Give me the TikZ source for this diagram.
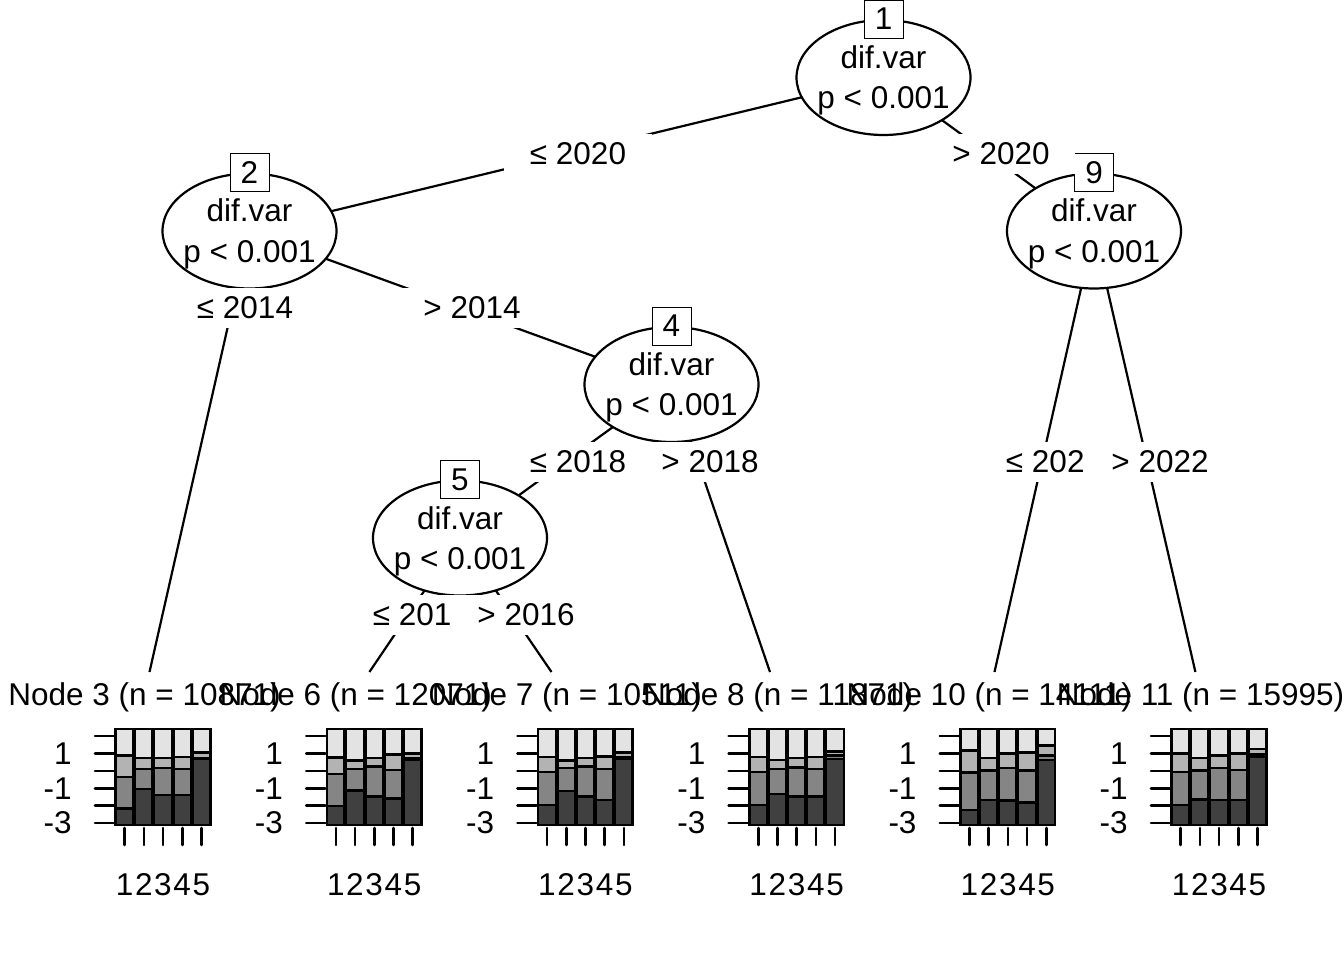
\documentclass[tikz,border=0pt]{standalone}
\usepackage{fontspec}
\setmainfont{Liberation Sans}
\usetikzlibrary{shapes.geometric}
\pgfdeclarelayer{background}
\pgfsetlayers{background,main}
\definecolor{cA}{HTML}{404040}
\definecolor{cB}{HTML}{858585}
\definecolor{cC}{HTML}{B3B3B3}
\definecolor{cD}{HTML}{E3E3E3}
\tikzset{
  inner/.style={ellipse, draw, fill=white, minimum width=174pt, minimum height=115pt, inner sep=0pt},
  numbox/.style={draw, fill=white, minimum width=39pt, minimum height=38pt, inner sep=0pt},
  elabel/.style={fill=white, minimum width=148pt, minimum height=40pt, inner sep=0pt},
  txt/.style={inner sep=0pt, anchor=base},
  edge/.style={draw, line width=2.2pt},
  panelline/.style={line width=2.6pt},
}
\newcommand\leafpanel[4]{%
 \begin{scope}[shift={(#1,0)}, panelline]
  \foreach \a/\b/\c [count=\i from 0] in {#4} {
    \pgfmathsetmacro\xa{19.2*\i+0.7}
    \pgfmathsetmacro\xb{19.2*\i+18.5}
    \pgfmathsetmacro\xm{19.2*\i+9.6}
    \pgfmathsetmacro\ya{825-96*\a}
    \pgfmathsetmacro\yb{825-96*\b}
    \pgfmathsetmacro\yc{825-96*\c}
    \pgfmathtruncatemacro\lab{\i+1}
    \draw[fill=cA] (\xa,825) rectangle (\xb,\ya);
    \draw[fill=cB] (\xa,\ya) rectangle (\xb,\yb);
    \draw[fill=cC] (\xa,\yb) rectangle (\xb,\yc);
    \draw[fill=cD] (\xa,\yc) rectangle (\xb,729);
    \draw[line cap=round] (\xm,828) -- (\xm,845);
    \node[txt] at (\xm,895) {\lab};
  }
  \foreach \t in {736,753.4,770.8,788.2,805.6,823} \draw[line cap=round] (-20,\t) -- (-1,\t);
  \node[inner sep=0pt, anchor=east] at (-42,753.4) {1};
  \node[inner sep=0pt, anchor=east] at (-42,788.2) {-1};
  \node[inner sep=0pt, anchor=east] at (-42,823) {-3};
  \node[txt] (#2) at (29.5,705) {#3};
 \end{scope}
}
\begin{document}
\begin{tikzpicture}[x=1pt,y=-1pt, line width=2.2pt, font=\fontsize{31.5pt}{38pt}\selectfont]
\useasboundingbox (0,0) rectangle (1344,960);

% inner nodes
\node[inner] (n1) at (883.5,77.5) {};
\node[inner] (n2) at (249.5,231) {};
\node[inner] (n9) at (1094,231) {};
\node[inner] (n4) at (671.5,384.5) {};
\node[inner] (n5) at (460,538) {};

% edge end points at the top of the terminal panels
\coordinate (e3) at (149.5,672);
\coordinate (e6) at (369.4,672);
\coordinate (e7) at (551.5,672);
\coordinate (e8) at (770,672);
\coordinate (e10) at (994.5,672);
\coordinate (e11) at (1195.4,672);

\begin{pgfonlayer}{background}
\fill[white] (0,0) rectangle (1344,960);
\draw[edge] (n1.center) -- (n2.center);
\draw[edge] (n1.center) -- (n9.center);
\draw[edge] (n2.center) -- (e3);
\draw[edge] (n2.center) -- (n4.center);
\draw[edge] (n4.center) -- (n5.center);
\draw[edge] (n4.center) -- (e8);
\draw[edge] (n5.center) -- (e6);
\draw[edge] (n5.center) -- (e7);
\draw[edge] (n9.center) -- (e10);
\draw[edge] (n9.center) -- (e11);
\end{pgfonlayer}

% node texts
\foreach \n/\x/\y in {n1/883.5/77.5, n2/249.5/231, n9/1094/231, n4/671.5/384.5, n5/460/538} {
  \node[txt] (\n a) at (\x,\y-9) {dif.var};
  \node[txt] (\n b) at (\x,\y+31) {p < 0.001};
}
\node[numbox] (b1) at (n1.north) {1};
\node[numbox] (b2) at (n2.north) {2};
\node[numbox] (b9) at (n9.north) {9};
\node[numbox] (b4) at (n4.north) {4};
\node[numbox] (b5) at (n5.north) {5};

% edge labels
\node[elabel] (l12) at (578,154) {≤ 2020};
\node[elabel] (l19) at (1001,154) {> 2020};
\node[elabel] (l23) at (245,308) {≤ 2014};
\node[elabel] (l24) at (472,308) {> 2014};
\node[elabel] (l45) at (578,462) {≤ 2018};
\node[elabel] (l48) at (710,462) {> 2018};
\node[elabel] (l56) at (421,615) {≤ 2016};
\node[elabel] (l57) at (526,615) {> 2016};
\node[elabel] (l910) at (1054,462) {≤ 2022};
\node[elabel] (l911) at (1160,462) {> 2022};

% terminal panels
\leafpanel{115}{t3}{Node 3 (n = 10871)}{.174/.498/.721, .376/.585/.697, .314/.592/.697, .314/.585/.707, .686/.70/.756}
\leafpanel{326.2}{t6}{Node 6 (n = 12071)}{.199/.533/.704, .359/.585/.672, .296/.61/.697, .279/.575/.732, .679/.70/.745}
\leafpanel{537.4}{t7}{Node 7 (n = 10511)}{.209/.551/.707, .355/.592/.672, .296/.61/.697, .261/.582/.714, .686/.707/.756}
\leafpanel{748.6}{t8}{Node 8 (n = 11871)}{.209/.551/.707, .324/.585/.679, .296/.599/.697, .296/.582/.707, .686/.721/.767}
\leafpanel{959.8}{t10}{Node 10 (n = 14111)}{.157/.547/.777, .261/.568/.697, .254/.592/.742, .237/.568/.756, .679/.721/.826}
\leafpanel{1171}{t11}{Node 11 (n = 15995)}{.209/.551/.742, .268/.568/.697, .261/.592/.721, .261/.575/.742, .707/.732/.791}
\end{tikzpicture}
\end{document}
